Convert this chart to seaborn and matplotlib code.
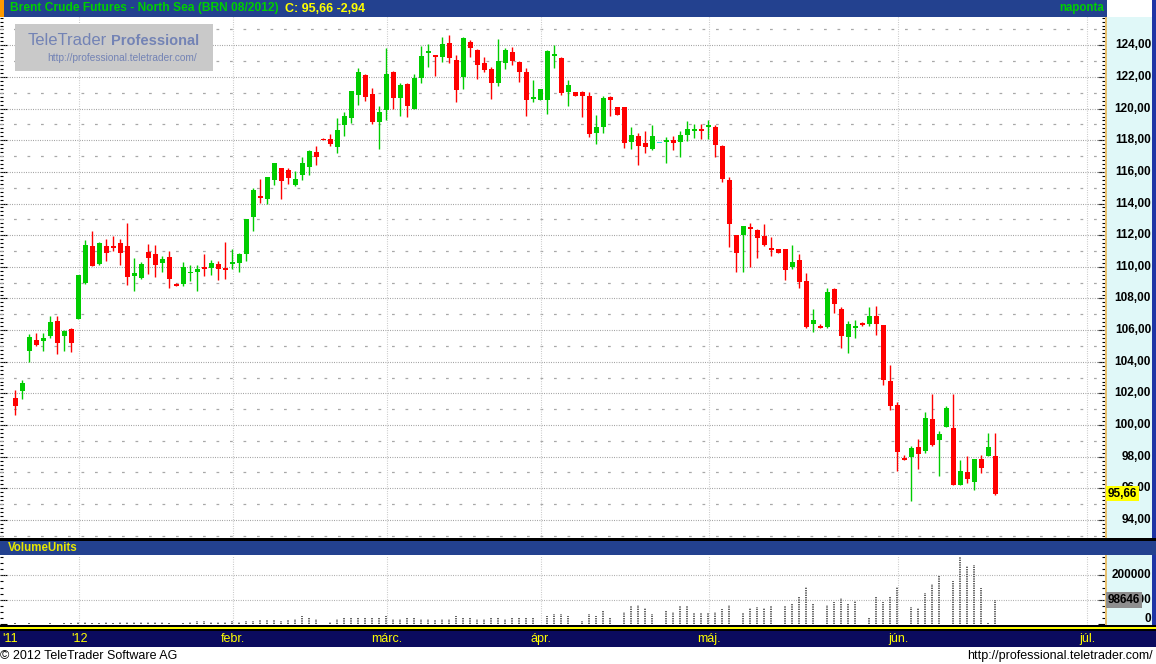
import numpy as np
import matplotlib
matplotlib.use("Agg")
import matplotlib.pyplot as plt
import matplotlib.transforms as mtrans
from matplotlib.patches import Rectangle
from matplotlib.ticker import MultipleLocator, NullFormatter
import seaborn as sns

sns.set_theme(style="white")
plt.rcParams['font.family'] = ['Liberation Sans', 'DejaVu Sans']

# -----------------------------
# Daily OHLC, Brent BRN 08/2012
# -----------------------------
opens = [101.70, 102.17, 104.65, 105.39, 105.28, 105.64, 106.60, 105.64, 106.09, 106.72,
         108.95, 111.30, 110.16, 111.30, 111.28, 111.49, 111.30, 109.42, 109.29, 110.92,
         110.79, 110.24, 110.60, 108.89, 108.91, 109.61, 109.67, 109.97, 109.92, 110.16,
         109.90, 110.18, 110.24, 110.81, 113.16, 114.42, 114.27, 115.48, 116.24, 116.11,
         115.18, 115.81, 116.32, 117.25, 118.07, 118.07, 117.59, 118.98, 119.42, 120.88,
         122.12, 120.92, 119.17, 119.93, 122.31, 120.69, 121.55, 119.99, 121.95, 123.54,
         123.39, 123.28, 124.15, 123.07, 122.02, 124.21, 123.70, 122.88, 122.50, 121.64,
         122.90, 123.58, 122.95, 122.31, 120.62, 120.56, 120.56, 123.35, 123.20, 121.07,
         121.05, 121.05, 120.79, 118.47, 118.85, 120.73, 120.10, 120.10, 117.90, 118.26,
         117.82, 117.46, 117.86, 117.90, 118.01, 117.90, 118.35, 118.62, 118.64, 118.83,
         118.83, 117.63, 115.48, 111.98, 111.98, 112.49, 112.30, 111.92, 111.18, 111.10,
         111.10, 109.98, 110.40, 109.13, 106.41, 106.22, 106.22, 108.57, 107.36, 105.55,
         106.12, 106.41, 106.41, 106.86, 106.31, 102.81, 101.29, 97.93, 97.95, 98.62,
         98.33, 100.40, 99.03, 99.85, 99.83, 96.23, 97.04, 96.42, 97.86, 98.07,
         98.05]
highs = [102.21, 102.85, 105.77, 105.83, 105.83, 106.92, 106.92, 106.03, 106.15, 109.46,
         111.68, 112.25, 111.56, 111.75, 111.94, 111.75, 112.76, 110.54, 110.28, 111.43,
         111.36, 110.67, 110.98, 108.95, 110.28, 110.09, 110.09, 110.79, 110.41, 110.35,
         111.56, 111.11, 110.86, 113.01, 114.97, 115.54, 115.67, 116.55, 116.24, 116.24,
         116.03, 116.93, 117.38, 117.63, 118.14, 118.39, 119.40, 119.78, 121.11, 122.57,
         122.19, 121.30, 120.16, 123.83, 122.38, 121.62, 121.62, 122.19, 123.96, 124.08,
         123.39, 124.53, 124.65, 123.39, 124.53, 124.34, 123.77, 123.26, 122.63, 124.40,
         123.83, 123.89, 123.01, 122.57, 121.81, 121.24, 123.70, 124.02, 123.26, 121.81,
         121.05, 121.11, 121.05, 119.59, 120.79, 120.79, 120.10, 120.10, 118.85, 118.45,
         118.58, 118.96, 117.86, 118.20, 118.26, 118.58, 119.21, 119.02, 119.02, 119.27,
         118.96, 117.69, 115.67, 111.98, 112.61, 112.74, 112.36, 112.68, 111.86, 111.10,
         111.10, 111.35, 110.84, 109.58, 107.36, 106.41, 108.69, 108.63, 107.49, 106.60,
         106.67, 106.54, 107.49, 107.55, 106.31, 103.77, 101.48, 98.12, 98.69, 99.13,
         100.85, 101.93, 99.64, 101.23, 101.93, 97.80, 98.05, 97.86, 98.12, 99.51,
         99.51]
lows = [100.64, 101.66, 104.01, 104.97, 104.69, 105.52, 104.50, 104.69, 104.63, 106.72,
        108.89, 110.03, 110.09, 110.37, 111.00, 110.11, 108.84, 108.46, 109.22, 109.54,
        109.35, 109.67, 108.65, 108.78, 108.78, 109.10, 108.46, 109.42, 109.46, 109.16,
        109.22, 109.86, 109.67, 110.37, 112.27, 114.02, 114.00, 115.18, 114.27, 115.24,
        115.12, 115.50, 115.81, 116.45, 118.01, 117.65, 117.21, 118.28, 119.11, 120.24,
        120.50, 119.04, 117.46, 119.30, 119.99, 119.55, 119.49, 119.99, 121.64, 122.65,
        122.08, 122.97, 122.90, 120.43, 121.26, 123.28, 121.89, 122.33, 120.62, 121.45,
        122.52, 122.78, 121.70, 119.55, 120.43, 120.56, 119.68, 122.59, 120.88, 120.18,
        120.81, 119.49, 118.22, 117.78, 118.47, 119.55, 119.61, 117.52, 117.46, 116.45,
        117.21, 117.40, 117.86, 116.57, 117.40, 116.95, 117.97, 118.14, 118.09, 118.07,
        116.95, 115.37, 111.24, 109.66, 109.66, 109.98, 110.55, 111.31, 110.67, 110.86,
        109.16, 109.85, 108.65, 106.12, 105.86, 106.16, 106.16, 107.11, 104.85, 104.53,
        105.48, 106.29, 106.29, 105.67, 102.52, 100.93, 97.12, 97.82, 95.22, 97.25,
        98.26, 98.65, 96.80, 99.85, 96.23, 96.23, 96.36, 95.92, 96.99, 98.07,
        95.60]
closes = [101.22, 102.66, 105.58, 105.09, 105.52, 106.53, 105.16, 105.96, 105.16, 109.46,
          111.36, 110.03, 111.49, 110.88, 111.24, 110.88, 109.35, 109.58, 110.16, 110.56,
          110.11, 110.47, 109.22, 108.78, 109.97, 109.67, 109.84, 109.86, 110.22, 109.86,
          109.80, 110.28, 110.79, 113.01, 114.84, 114.36, 115.67, 116.55, 115.43, 115.62,
          115.54, 116.55, 117.31, 116.95, 118.03, 117.78, 118.64, 119.53, 121.11, 122.31,
          120.75, 119.17, 119.78, 122.19, 120.69, 121.49, 120.18, 121.93, 123.32, 123.58,
          123.28, 124.08, 123.22, 121.19, 124.46, 123.85, 122.78, 122.46, 121.64, 123.01,
          123.70, 123.03, 122.33, 120.56, 120.73, 121.24, 123.64, 123.39, 121.00, 121.49,
          120.81, 120.81, 118.41, 118.83, 120.67, 120.56, 119.61, 117.84, 118.32, 117.65,
          117.59, 118.26, 117.86, 117.95, 117.84, 118.32, 118.70, 118.64, 118.60, 118.96,
          117.71, 115.56, 112.71, 110.86, 112.61, 112.45, 111.81, 111.37, 111.12, 110.86,
          109.79, 110.32, 109.03, 106.22, 106.67, 106.16, 108.38, 107.64, 105.61, 106.41,
          106.29, 106.35, 106.86, 106.41, 102.84, 101.19, 98.31, 97.82, 98.56, 98.14,
          100.47, 98.71, 99.45, 101.10, 96.23, 97.10, 96.61, 97.86, 97.31, 98.60,
          95.66]
volumes = [4000, 2700, 5400, 2700, 1400, 4000, 2700, 5400, 5400, 10900,
           9500, 6800, 5400, 9500, 6800, 9500, 10900, 8200, 9500, 8200,
           9500, 9500, 4000, 1400, 6800, 10900, 13600, 13600, 9500, 10900,
           9500, 12200, 10900, 12200, 13600, 16300, 17700, 17700, 13600, 16300,
           20400, 34000, 31300, 23100, 1400, 9500, 20400, 24500, 28600, 25900,
           27200, 25900, 28600, 34000, 21800, 23100, 25900, 25900, 21800, 20400,
           19100, 21800, 23100, 34000, 25900, 24500, 21800, 23100, 24500, 28600,
           21800, 27000, 31000, 27000, 27000, 2000, 34000, 42000, 43500, 34000,
           1500, 13600, 43500, 34000, 54400, 30000, 1500, 50300, 74800, 80300,
           68000, 42000, 1500, 58500, 50300, 74800, 74800, 46300, 46300, 46300,
           50300, 62600, 79000, 1500, 46300, 66700, 70800, 66700, 74800, 1500,
           74800, 83000, 111600, 152400, 87100, 1500, 79000, 91200, 107500, 83000,
           95200, 1500, 25900, 111600, 91200, 111600, 152400, 1500, 70800, 66700,
           127900, 164600, 198600, 1500, 176900, 274800, 238100, 242200, 148300, 5400,
           98646]

month_pos = [9, 31, 53, 75, 99, 126, 153]
month_labels = ["'12", "febr.", "márc.", "ápr.", "máj.", "jún.", "júl."]
price_ticks = list(range(94, 126, 2))
last_close = 95.66
last_volume = 98646

# -----------------------------
# Layout helpers
# -----------------------------
W, H = 1156, 664
fig = plt.figure(figsize=(W / 100, H / 100), dpi=100)
fig.patch.set_facecolor('white')


def box(x0, y0, x1, y1):
    return [x0 / W, 1 - y1 / H, (x1 - x0) / W, (y1 - y0) / H]


def bare(axx, color):
    axx.set_facecolor(color)
    axx.set_xticks([])
    axx.set_yticks([])
    for s in axx.spines.values():
        s.set_visible(False)


def strip(x0, y0, x1, y1, color):
    fig.patches.append(Rectangle((x0 / W, 1 - y1 / H), (x1 - x0) / W, (y1 - y0) / H,
                                 transform=fig.transFigure, color=color, lw=0, zorder=5))


NAVY = '#23418f'
DARK = '#0b0b5e'
GREEN = '#00cc00'
RED = '#ff0000'
CYAN_BG = '#e0f8f8'
WM = '#7383b5'
XMIN, XMAX = -2.19, 155.67

o = np.array(opens)
h = np.array(highs)
l = np.array(lows)
c = np.array(closes)
idx = np.arange(len(o))

# -----------------------------
# Price panel
# -----------------------------
ax = fig.add_axes(box(0, 17, 1105, 538))
ax.set_facecolor('white')
ax.set_xlim(XMIN, XMAX)
ax.set_ylim(92.86, 125.79)
for s in ax.spines.values():
    s.set_visible(False)
ax.set_xticks([])
ax.yaxis.set_major_locator(MultipleLocator(2))
ax.yaxis.set_minor_locator(MultipleLocator(0.25))
ax.yaxis.set_major_formatter(NullFormatter())
ax.tick_params(axis='y', which='both', direction='in', left=True, right=True,
               colors='black', width=0.8, labelleft=False, labelright=False)
ax.tick_params(axis='y', which='major', length=5)
ax.tick_params(axis='y', which='minor', length=2.5)

for p in price_ticks:
    ax.axhline(p, color='#8a8a8a', lw=0.8, ls=(0, (0.7, 1.4)), zorder=1)
for p in range(93, 126, 2):
    ax.axhline(p, color='#a8a8a8', lw=0.9, ls=(10.8, (2.2, 8.6)), zorder=1)
for m in month_pos:
    ax.axvline(m + 0.1, color='#bdbdbd', lw=0.8, ls=(0, (0.7, 1.4)), zorder=1)

col = np.where(c > o, GREEN, np.where(c < o, RED, '#33dddd'))
ax.vlines(idx, l, h, colors=col, lw=1.0, zorder=3)
lo = np.minimum(o, c)
ht = np.abs(c - o)
thin = ht < 0.12
lo = np.where(thin, (o + c) / 2 - 0.06, lo)
ht = np.where(thin, 0.12, ht)
ax.bar(idx, ht, bottom=lo, width=0.72, color=col, linewidth=0, zorder=4)

# watermark
wm = fig.add_axes(box(15, 24, 213, 71))
bare(wm, '#c9c9c9')
w1 = wm.text(13 / 198, 0.64, 'TeleTrader', color=WM, fontsize=12, va='center', ha='left',
             transform=wm.transAxes)
w2 = wm.text(96 / 198, 0.64, 'Professional', color=WM, fontsize=12, fontweight='bold',
             va='center', ha='left', transform=wm.transAxes)
w3 = wm.text(32 / 198, 0.27, 'http://professional.teletrader.com/', color=WM, fontsize=7,
             va='center', ha='left', transform=wm.transAxes)

# -----------------------------
# Volume panel
# -----------------------------
vx = fig.add_axes(box(0, 555, 1105, 625))
vx.set_facecolor('white')
vx.set_xlim(XMIN, XMAX)
vx.set_ylim(-2860, 282860)
for s in vx.spines.values():
    s.set_visible(False)
vx.set_xticks([])
vx.yaxis.set_major_locator(MultipleLocator(100000))
vx.yaxis.set_minor_locator(MultipleLocator(25000))
vx.yaxis.set_major_formatter(NullFormatter())
vx.tick_params(axis='y', which='both', direction='in', left=True, right=True,
               colors='black', width=0.8, labelleft=False, labelright=False)
vx.tick_params(axis='y', which='major', length=5)
vx.tick_params(axis='y', which='minor', length=2.5)
for v in (100000, 200000):
    vx.axhline(v, color='#9a9a9a', lw=0.8, ls=(0, (0.7, 1.4)), zorder=1)
for m in month_pos:
    vx.axvline(m + 0.1, color='#bdbdbd', lw=0.8, ls=(0, (0.7, 1.4)), zorder=1)
vx.vlines(idx, 0, volumes, colors='#4a4a4a', lw=1.2, linestyles=(0, (0.8, 0.6)), zorder=3)

# -----------------------------
# Right value panels
# -----------------------------
rp = fig.add_axes(box(1106, 17, 1153, 538), zorder=-1)
bare(rp, CYAN_BG)
rv = fig.add_axes(box(1106, 555, 1153, 625), zorder=-1)
bare(rv, CYAN_BG)

tr = mtrans.blended_transform_factory(fig.transFigure, ax.transData)
for p in price_ticks:
    fig.text(1151 / W, p, f'{p:.2f}'.replace('.', ','), transform=tr, ha='right',
             va='center', fontsize=8.5, fontweight='bold', color='black')
fig.text(1108 / W, last_close, f'{last_close:.2f}'.replace('.', ','), transform=tr,
         ha='left', va='center', fontsize=8.5, fontweight='bold', color='black',
         bbox=dict(boxstyle='square,pad=0.15', fc='#ffff00', ec='none'), zorder=10)

tv = mtrans.blended_transform_factory(fig.transFigure, vx.transData)
fig.text(1151 / W, 200000, '200000', transform=tv, ha='right', va='center',
         fontsize=8.5, fontweight='bold', color='black')
fig.text(1151 / W, 100000, '100000', transform=tv, ha='right', va='center',
         fontsize=8.5, fontweight='bold', color='black')
fig.text(1151 / W, 20000, '0', transform=tv, ha='right', va='center',
         fontsize=8.5, fontweight='bold', color='black')
fig.text(1108 / W, last_volume, str(last_volume), transform=tv, ha='left', va='center',
         fontsize=8.5, fontweight='bold', color='black',
         bbox=dict(boxstyle='square,pad=0.15', fc='#8e8e8e', ec='none'), zorder=10)

# borders around the value panels
strip(1105, 17, 1107, 538, '#e8c070')
strip(1152, 17, 1156, 538, '#1f35a5')
strip(1105, 555, 1107, 625, '#e8c070')
strip(1152, 555, 1156, 625, '#1f35a5')

# -----------------------------
# Title bars, date bar, footer
# -----------------------------
strip(0, 0, 1107, 17, NAVY)
strip(1107, 0, 1156, 17, '#ffffff')
strip(1152, 0, 1156, 17, '#1f35a5')
strip(0, 0, 4, 17, '#ff9900')
strip(0, 538, 1156, 541, 'black')
strip(0, 541, 1156, 555, NAVY)
strip(0, 625, 1156, 627, 'black')
strip(0, 627, 1156, 629, '#ffff00')
strip(0, 629, 1156, 631, 'black')
strip(0, 631, 1156, 647, DARK)

t1 = fig.text(10 / W, 1 - 8.5 / H, 'Brent Crude Futures - North Sea (BRN 08/2012)',
              color='#00d000', fontsize=8.3, fontweight='bold', ha='left', va='center', zorder=6)
t2 = fig.text(285 / W, 1 - 8.5 / H, 'C: 95,66 -2,94', color='#ffff00', fontsize=8.3,
              fontweight='bold', ha='left', va='center', zorder=6)
fig.text(1104 / W, 1 - 8.5 / H, 'naponta', color='#00d000', fontsize=8.3,
         fontweight='bold', ha='right', va='center', zorder=6)
fig.text(8 / W, 1 - 548 / H, 'VolumeUnits', color='#e8e800', fontsize=8.3,
         fontweight='bold', ha='left', va='center', zorder=6)

td = mtrans.blended_transform_factory(vx.transData, fig.transFigure)
fig.text(2 / W, 1 - 639 / H, "'11", color='#ffff00', fontsize=9, ha='left', va='center', zorder=6)
for m, lab in zip(month_pos, month_labels):
    fig.text(m + 0.1, 1 - 639 / H, lab, transform=td, color='#ffff00', fontsize=9,
             ha='center', va='center', zorder=6)

fig.text(0, 1 - 656 / H, '\u00a9 2012 TeleTrader Software AG', color='black',
         fontsize=9, ha='left', va='center')
fig.text(1153 / W, 1 - 656 / H, 'http://professional.teletrader.com/', color='black',
         fontsize=9, ha='right', va='center')

# fit a few text widths to the reference
fig.canvas.draw()
r = fig.canvas.get_renderer()
for t, target in ((t1, 268), (t2, 80), (w1, 79), (w2, 87), (w3, 150)):
    w = t.get_window_extent(renderer=r).width
    t.set_fontsize(t.get_fontsize() * target / w)

fig.savefig('out.png', dpi=100, facecolor=fig.get_facecolor())
